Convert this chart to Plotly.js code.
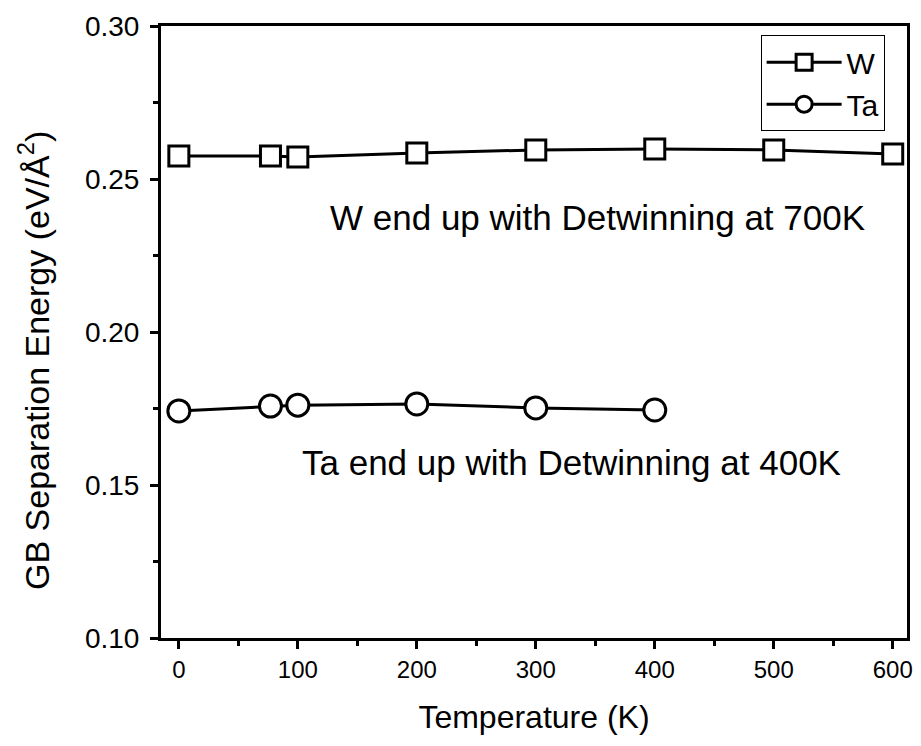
<!DOCTYPE html>
<html>
<head>
<meta charset="utf-8">
<script src="https://cdn.plot.ly/plotly-3.0.1.min.js"></script>
<style>html,body{margin:0;padding:0;background:#fff;}#chart{width:921px;height:746px;}</style>
</head>
<body>
<div id="chart"></div>
<script>
const wTemps = [0, 77, 100, 200, 300, 400, 500, 600];
const wEnergy = [0.2575, 0.2575, 0.2572, 0.2585, 0.2595, 0.2598, 0.2595, 0.2582];
const taTemps = [0, 77, 100, 200, 300, 400];
const taEnergy = [0.1742, 0.1758, 0.1761, 0.1765, 0.1752, 0.1745];
const seriesNames = ["W", "Ta"];
const noteTexts = ["W end up with Detwinning at 700K", "Ta end up with Detwinning at 400K"];
const xTicks = [0, 100, 200, 300, 400, 500, 600];
const yTicks = [0.10, 0.15, 0.20, 0.25, 0.30];

const FONT = "Liberation Sans, Arial, sans-serif";

const traces = [
  {x: wTemps, y: wEnergy, name: seriesNames[0], mode: "lines+markers",
   line: {color: "#000", width: 3},
   marker: {symbol: "square", size: 20, color: "#fff", line: {color: "#000", width: 3}}},
  {x: taTemps, y: taEnergy, name: seriesNames[1], mode: "lines+markers",
   line: {color: "#000", width: 3},
   marker: {symbol: "circle", size: 22, color: "#fff", line: {color: "#000", width: 3}}}
];

const layout = {
  width: 921, height: 746,
  margin: {l: 161, r: 14, t: 26, b: 108},
  paper_bgcolor: "#fff", plot_bgcolor: "#fff",
  font: {family: FONT, color: "#000", size: 24},
  showlegend: true,
  legend: {x: 0.97, xanchor: "right", y: 0.985, yanchor: "top",
           bordercolor: "#000", borderwidth: 1, bgcolor: "#fff",
           font: {family: FONT, size: 30}, tracegroupgap: 0, itemwidth: 75},
  xaxis: {range: [-15, 612], showgrid: false, zeroline: false,
          showline: true, linecolor: "#000", linewidth: 3, mirror: true,
          ticks: "outside", ticklen: 8, tickwidth: 3, tickcolor: "#000",
          tickvals: xTicks,
          minor: {ticks: "outside", ticklen: 5, tickwidth: 3, tickcolor: "#000", dtick: 50, tick0: 0},
          tickfont: {family: FONT, size: 24},
          title: {text: "Temperature (K)", font: {family: FONT, size: 32}, standoff: 24}},
  yaxis: {range: [0.10, 0.30], showgrid: false, zeroline: false,
          showline: true, linecolor: "#000", linewidth: 3, mirror: true,
          ticks: "outside", ticklen: 8, tickwidth: 3, tickcolor: "#000",
          tickvals: yTicks, tickformat: ".2f", ticklabelstandoff: 5,
          minor: {ticks: "outside", ticklen: 5, tickwidth: 3, tickcolor: "#000", dtick: 0.025, tick0: 0.10},
          tickfont: {family: FONT, size: 28},
          title: {text: "GB Separation Energy (eV/Å<sup>2</sup>)&nbsp;&nbsp;&nbsp;&nbsp;&nbsp;&nbsp;", font: {family: FONT, size: 34}, standoff: 26}},
  annotations: [
    {x: 352, y: 0.2375, xref: "x", yref: "y", text: noteTexts[0], showarrow: false,
     font: {family: FONT, size: 35}},
    {x: 330, y: 0.1575, xref: "x", yref: "y", text: noteTexts[1], showarrow: false,
     font: {family: FONT, size: 35}}
  ]
};

Plotly.newPlot("chart", traces, layout, {displayModeBar: false, staticPlot: true});
</script>
</body>
</html>
